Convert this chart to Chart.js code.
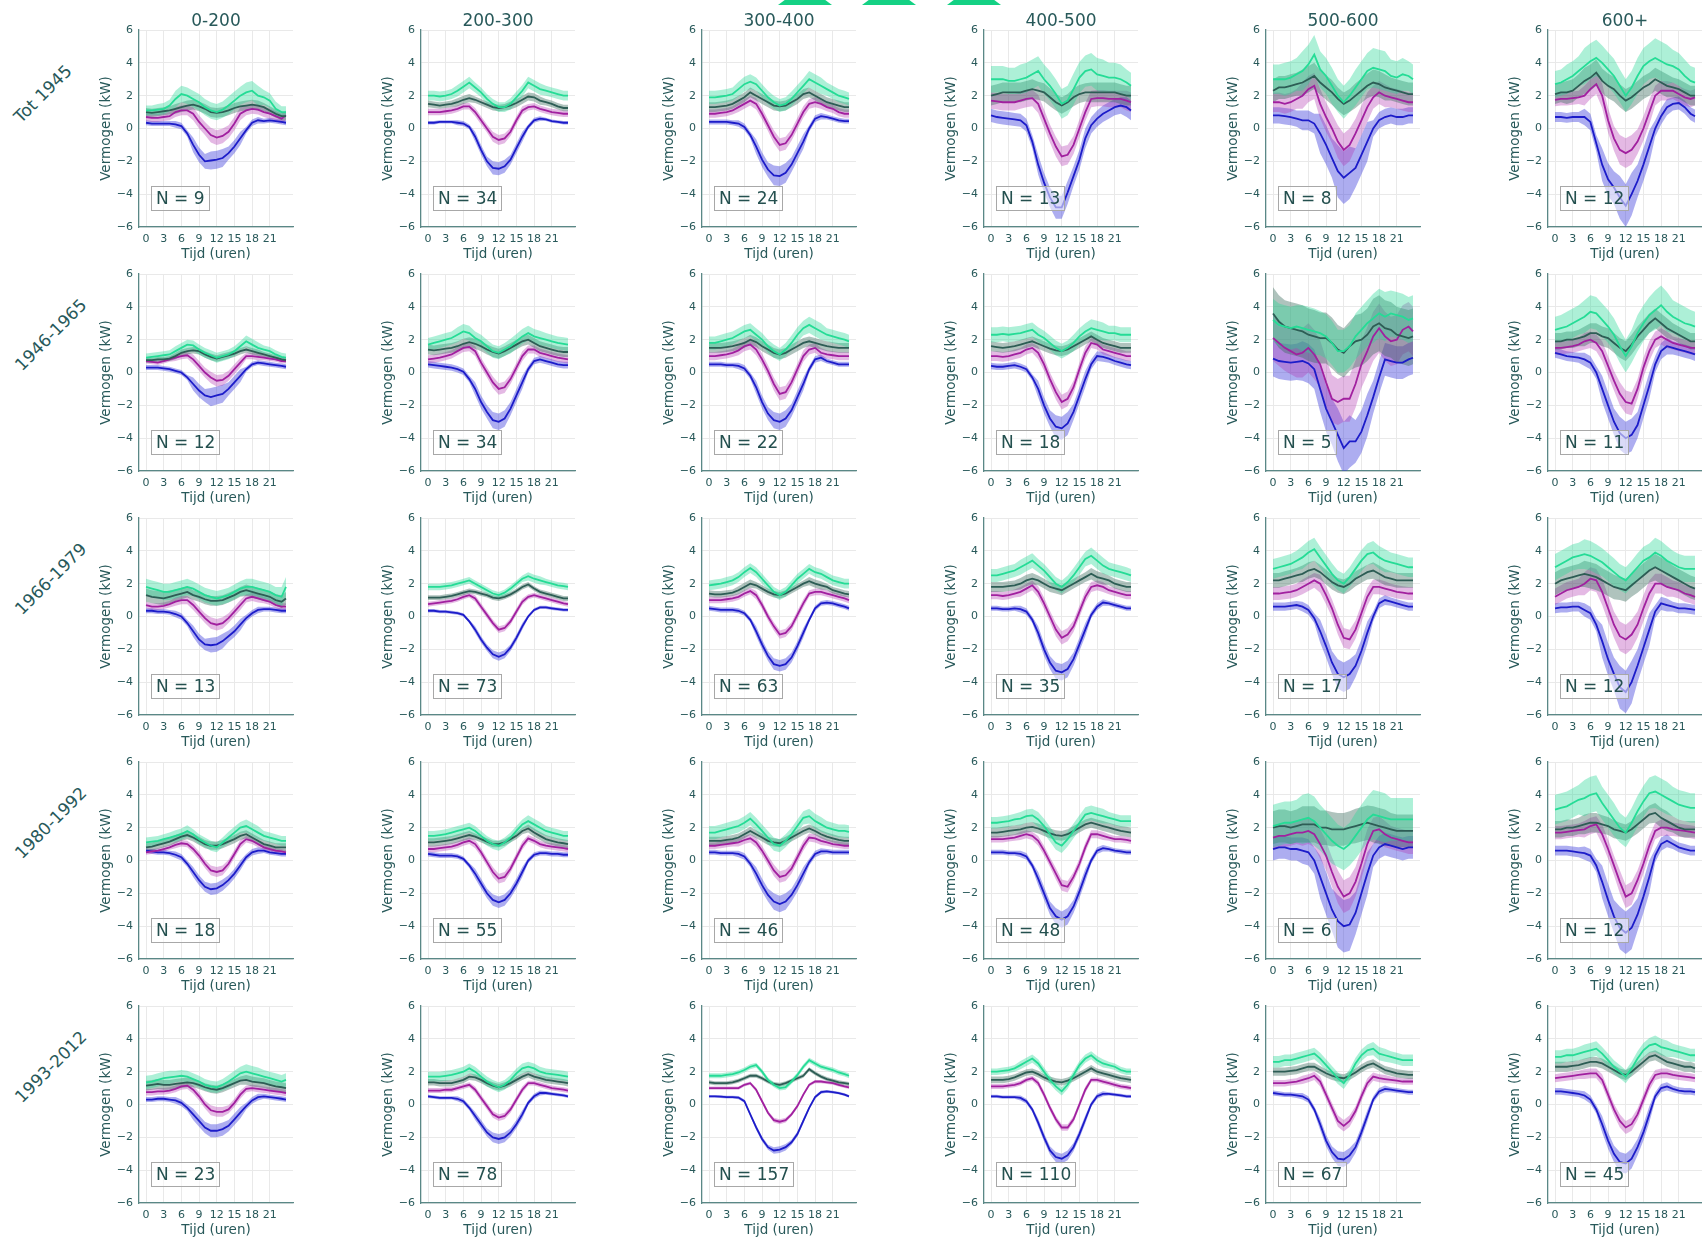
<!DOCTYPE html>
<html><head><meta charset="utf-8">
<script src="https://cdn.jsdelivr.net/npm/chart.js@4.4.1/dist/chart.umd.min.js"></script>
<style>
html,body{margin:0;padding:0;background:#fff;}
#root{position:relative;width:1702px;height:1240px;overflow:hidden;background:#fff;font-family:'DejaVu Sans',sans-serif;}
.panel{position:absolute;}
.coltitle{position:absolute;transform:translate(-50%,-50%);color:#28595a;font-size:17px;line-height:1;white-space:nowrap;}
.rowlab{position:absolute;transform:translate(-50%,-50%) rotate(-45deg);color:#28595a;font-size:17px;line-height:1;white-space:nowrap;}
.nbox{position:absolute;border:1px solid #a8a8a8;background:rgba(255,255,255,0.55);color:#24504f;font-size:17px;height:23px;line-height:23px;padding:0 4px;white-space:nowrap;}
.tri{position:absolute;top:-15px;width:0;height:0;border-left:27px solid transparent;border-right:27px solid transparent;border-bottom:20px solid #14d184;}
</style></head>
<body><div id="root"></div>
<script>
// ---------------- DATA ----------------
const hours = [0,1,2,3,4,5,6,7,8,9,10,11,12,13,14,15,16,17,18,19,20,21,22,23,23.75];
const xTickValues = [0,3,6,9,12,15,18,21];
const yTickValues = [-6,-4,-2,0,2,4,6];
const bandKnotHours = [0,3,6,9,12,15,18,21,24];
const rowLabels = ['Tot 1945','1946-1965','1966-1979','1980-1992','1993-2012'];
const colLabels = ['0-200','200-300','300-400','400-500','500-600','600+'];
const nCounts = [[9,34,24,13,8,12],[12,34,22,18,5,11],[13,73,63,35,17,12],[18,55,46,48,6,12],[23,78,157,110,67,45]];

// Row 1: Tot 1945
const blueR1 = [
 [0.35,0.3,0.3,0.3,0.3,0.25,0.15,-0.3,-1.0,-1.6,-2.0,-1.95,-1.9,-1.8,-1.5,-1.1,-0.6,-0.1,0.35,0.5,0.45,0.5,0.45,0.4,0.35],
 [0.35,0.35,0.4,0.4,0.4,0.35,0.3,0.1,-0.5,-1.3,-2.0,-2.4,-2.45,-2.3,-1.9,-1.2,-0.5,0.1,0.5,0.6,0.55,0.45,0.4,0.35,0.35],
 [0.4,0.4,0.4,0.4,0.35,0.3,0.1,-0.4,-1.1,-1.9,-2.5,-2.85,-2.9,-2.7,-2.2,-1.5,-0.8,0.0,0.6,0.75,0.7,0.6,0.5,0.45,0.45],
 [0.8,0.7,0.65,0.6,0.55,0.5,0.2,-0.8,-2.2,-3.3,-4.2,-4.8,-4.8,-3.9,-2.9,-1.9,-0.6,0.2,0.6,0.9,1.1,1.3,1.4,1.3,1.1],
 [0.8,0.8,0.75,0.7,0.6,0.5,0.5,0.3,-0.3,-1.0,-1.8,-2.6,-3.0,-2.7,-2.4,-1.6,-0.8,0.0,0.5,0.7,0.8,0.7,0.7,0.8,0.8],
 [0.7,0.7,0.65,0.7,0.7,0.7,0.4,-0.9,-2.2,-3.1,-3.6,-4.2,-4.7,-4.0,-3.2,-2.2,-1.1,0.0,0.75,1.3,1.5,1.55,1.3,0.9,0.75]];
const magR1 = [
 [0.7,0.65,0.65,0.7,0.75,1.0,1.1,1.1,0.9,0.4,0.0,-0.4,-0.55,-0.45,-0.2,0.3,0.9,1.1,1.2,1.15,1.0,0.9,0.75,0.6,0.8],
 [1.0,1.0,1.0,1.05,1.1,1.2,1.35,1.35,1.0,0.5,0.0,-0.5,-0.7,-0.6,-0.2,0.5,1.1,1.3,1.35,1.2,1.1,1.0,0.95,0.9,0.9],
 [0.9,0.9,0.95,1.0,1.1,1.3,1.5,1.7,1.5,0.9,0.2,-0.5,-1.0,-0.9,-0.4,0.3,1.0,1.5,1.6,1.5,1.3,1.2,1.0,0.9,0.9],
 [1.7,1.65,1.6,1.6,1.6,1.7,1.8,1.85,1.5,0.6,-0.3,-1.1,-1.7,-1.6,-1.0,0.0,1.0,1.8,1.85,1.85,1.8,1.8,1.8,1.7,1.6],
 [1.6,1.6,1.5,1.6,1.8,2.0,2.4,2.6,1.5,0.7,0.0,-0.8,-1.3,-1.0,-0.3,0.5,1.3,1.9,2.2,2.0,1.9,1.8,1.7,1.6,1.6],
 [1.75,1.8,1.8,1.85,1.9,2.0,2.4,2.7,2.0,0.5,-0.6,-1.3,-1.5,-1.3,-0.8,0.0,1.0,2.0,2.3,2.3,2.3,2.1,1.9,1.8,1.9]];
const grayR1 = [
 [1.0,0.95,1.0,1.05,1.1,1.2,1.3,1.4,1.45,1.35,1.2,1.0,0.95,1.0,1.1,1.25,1.35,1.4,1.45,1.4,1.3,1.1,0.9,0.75,0.75],
 [1.5,1.45,1.4,1.45,1.5,1.6,1.75,1.85,1.75,1.6,1.45,1.3,1.25,1.3,1.4,1.55,1.75,1.95,1.9,1.7,1.6,1.5,1.35,1.25,1.25],
 [1.3,1.3,1.35,1.4,1.5,1.7,1.9,2.2,2.0,1.8,1.6,1.4,1.35,1.4,1.6,1.8,2.1,2.2,2.0,1.8,1.6,1.5,1.4,1.3,1.3],
 [2.0,2.1,2.2,2.2,2.2,2.2,2.3,2.4,2.3,2.2,1.9,1.6,1.4,1.6,1.9,2.1,2.2,2.2,2.2,2.2,2.2,2.2,2.1,2.0,2.0],
 [2.3,2.5,2.5,2.6,2.7,2.8,3.0,3.2,2.8,2.5,2.2,1.8,1.5,1.7,2.0,2.3,2.6,2.8,2.7,2.5,2.4,2.3,2.2,2.1,2.1],
 [2.1,2.2,2.2,2.3,2.6,2.9,3.1,3.4,2.9,2.6,2.4,2.0,1.7,1.9,2.2,2.5,2.7,3.0,2.8,2.6,2.5,2.4,2.2,2.0,2.0]];
const greenR1 = [
 [1.1,1.1,1.15,1.2,1.4,1.8,2.1,2.0,1.8,1.6,1.3,1.1,1.0,1.15,1.4,1.7,2.0,2.2,2.3,2.0,1.9,1.7,1.2,1.0,1.0],
 [2.0,2.0,1.95,2.0,2.1,2.3,2.55,2.8,2.5,2.2,1.8,1.5,1.3,1.3,1.5,1.9,2.3,2.8,2.6,2.4,2.3,2.2,2.1,2.0,2.0],
 [1.9,1.9,1.95,2.0,2.1,2.4,2.7,2.85,2.7,2.3,1.9,1.6,1.4,1.5,1.8,2.2,2.6,3.0,2.8,2.6,2.4,2.2,2.0,1.9,1.8],
 [3.0,3.0,3.0,2.9,2.9,3.0,3.1,3.3,3.5,3.0,2.6,2.1,1.5,1.7,2.4,3.1,3.5,3.6,3.3,3.2,3.1,3.1,3.0,2.8,2.6],
 [3.0,3.0,3.0,3.1,3.3,3.5,3.9,4.5,3.6,3.2,2.6,2.0,1.6,2.0,2.5,3.0,3.5,3.7,3.6,3.5,3.2,3.1,3.3,3.2,3.0],
 [2.7,2.8,3.0,3.2,3.5,3.8,4.1,4.3,4.0,3.6,3.2,2.6,2.0,2.5,3.2,3.8,4.1,4.3,4.1,3.9,3.8,3.6,3.2,2.9,2.8]];
const bandR1 = [
 [[0.15,0.15,0.2,0.45,0.55,0.4,0.2,0.15,0.15],[0.25,0.25,0.3,0.4,0.45,0.4,0.3,0.3,0.3],[0.25,0.25,0.3,0.3,0.3,0.3,0.3,0.25,0.25],[0.3,0.35,0.5,0.5,0.5,0.55,0.6,0.45,0.35]],
 [[0.1,0.1,0.15,0.3,0.4,0.3,0.15,0.1,0.1],[0.2,0.2,0.2,0.25,0.3,0.25,0.2,0.2,0.2],[0.2,0.2,0.25,0.2,0.2,0.25,0.25,0.2,0.2],[0.3,0.3,0.35,0.3,0.3,0.35,0.35,0.3,0.3]],
 [[0.15,0.15,0.2,0.45,0.6,0.45,0.2,0.15,0.15],[0.25,0.25,0.3,0.35,0.4,0.35,0.3,0.25,0.25],[0.3,0.3,0.3,0.3,0.3,0.3,0.3,0.3,0.3],[0.4,0.4,0.45,0.4,0.4,0.45,0.5,0.4,0.4]],
 [[0.4,0.4,0.4,0.6,0.7,0.6,0.5,0.5,0.6],[0.5,0.5,0.5,0.55,0.6,0.55,0.5,0.5,0.6],[0.6,0.6,0.6,0.55,0.5,0.55,0.6,0.6,0.6],[0.8,0.8,0.9,0.9,0.9,0.95,1.0,0.9,0.8]],
 [[0.5,0.5,0.6,1.2,1.6,1.2,0.5,0.5,0.5],[0.6,0.6,0.8,0.9,1.0,0.9,0.7,0.6,0.6],[0.7,0.7,0.8,0.75,0.7,0.75,0.8,0.7,0.7],[0.9,1.0,1.2,1.1,1.0,1.1,1.2,1.0,0.9]],
 [[0.3,0.3,0.5,1.0,1.3,1.0,0.5,0.4,0.4],[0.4,0.4,0.6,0.75,0.9,0.75,0.6,0.5,0.5],[0.6,0.7,0.8,0.75,0.7,0.7,0.7,0.6,0.6],[0.8,0.9,1.1,1.05,1.0,1.1,1.2,1.0,0.9]]];

// Row 2: 1946-1965
const blueR2 = [
 [0.3,0.3,0.3,0.25,0.2,0.1,0.0,-0.3,-0.7,-1.1,-1.4,-1.5,-1.4,-1.3,-1.0,-0.6,-0.2,0.2,0.5,0.6,0.55,0.5,0.45,0.4,0.35],
 [0.5,0.45,0.4,0.35,0.3,0.2,0.05,-0.4,-1.0,-1.8,-2.4,-2.9,-3.0,-2.8,-2.2,-1.4,-0.6,0.2,0.7,0.8,0.7,0.6,0.5,0.45,0.45],
 [0.5,0.5,0.5,0.45,0.45,0.4,0.25,-0.2,-0.9,-1.8,-2.5,-2.9,-3.0,-2.8,-2.3,-1.5,-0.7,0.2,0.8,0.9,0.7,0.6,0.5,0.5,0.5],
 [0.4,0.35,0.35,0.4,0.45,0.35,0.2,-0.3,-1.0,-2.0,-2.8,-3.3,-3.4,-3.1,-2.4,-1.4,-0.4,0.5,1.0,0.95,0.85,0.7,0.6,0.5,0.45],
 [0.85,0.7,0.65,0.6,0.65,0.7,0.55,0.2,-1.0,-2.2,-3.0,-3.8,-4.6,-4.2,-4.2,-3.6,-2.6,-1.5,-0.3,0.8,0.7,0.6,0.6,0.8,0.9],
 [1.2,1.1,1.0,0.95,0.9,0.8,0.6,0.0,-1.0,-2.0,-3.0,-3.7,-4.0,-3.8,-3.2,-2.0,-0.8,0.5,1.3,1.6,1.5,1.4,1.3,1.2,1.1]];
const magR2 = [
 [0.7,0.65,0.6,0.7,0.8,0.9,1.0,1.05,0.8,0.4,0.0,-0.3,-0.5,-0.45,-0.2,0.2,0.6,1.0,1.0,0.95,0.9,0.85,0.8,0.7,0.7],
 [0.8,0.85,0.9,1.0,1.1,1.3,1.5,1.55,1.3,0.6,0.0,-0.6,-1.0,-0.9,-0.4,0.3,1.0,1.4,1.4,1.2,1.1,1.0,0.9,0.85,0.8],
 [1.0,1.0,1.05,1.1,1.2,1.35,1.6,1.7,1.4,0.8,0.1,-0.7,-1.3,-1.2,-0.6,0.2,1.0,1.4,1.5,1.2,1.1,1.05,1.0,1.0,1.0],
 [1.0,1.0,0.95,1.0,1.1,1.2,1.4,1.5,1.2,0.5,-0.4,-1.2,-1.8,-1.6,-0.9,0.2,1.2,1.8,1.7,1.4,1.3,1.2,1.1,1.0,1.0],
 [2.1,1.8,1.5,1.3,1.1,1.2,1.5,1.1,0.5,-0.6,-1.6,-1.8,-1.6,-1.6,-0.7,0.5,1.3,2.2,2.7,2.2,1.9,2.0,2.6,2.8,2.5],
 [1.5,1.5,1.55,1.6,1.7,1.9,2.0,1.8,1.3,0.4,-0.5,-1.3,-1.8,-1.9,-1.0,0.3,1.3,2.0,2.2,2.0,1.8,1.7,1.6,1.5,1.5]];
const grayR2 = [
 [0.75,0.75,0.8,0.8,0.85,1.0,1.2,1.3,1.35,1.3,1.1,0.95,0.85,0.95,1.05,1.15,1.3,1.4,1.3,1.2,1.1,1.0,0.9,0.8,0.75],
 [1.4,1.35,1.4,1.45,1.5,1.6,1.75,1.85,1.75,1.6,1.4,1.25,1.15,1.3,1.5,1.7,1.9,2.0,1.8,1.6,1.5,1.4,1.3,1.25,1.25],
 [1.5,1.5,1.5,1.55,1.6,1.7,1.8,2.0,1.85,1.6,1.4,1.2,1.1,1.2,1.4,1.6,1.8,1.9,1.8,1.7,1.6,1.55,1.5,1.5,1.5],
 [1.6,1.55,1.5,1.55,1.6,1.7,1.8,1.9,1.75,1.6,1.45,1.35,1.3,1.4,1.6,1.8,2.0,2.2,2.0,1.8,1.7,1.6,1.5,1.5,1.5],
 [3.6,3.1,2.8,2.7,2.6,2.5,2.3,2.2,2.1,2.1,1.8,1.4,1.2,1.6,1.9,2.0,2.3,2.8,3.0,2.7,2.6,2.3,2.2,2.1,2.2],
 [1.9,1.9,2.0,2.0,2.1,2.2,2.4,2.4,2.2,2.1,1.8,1.5,1.3,1.7,2.2,2.6,3.0,3.3,3.0,2.7,2.5,2.3,2.1,1.9,1.9]];
const greenR2 = [
 [0.9,0.95,1.0,1.05,1.1,1.3,1.5,1.7,1.65,1.4,1.2,1.05,0.9,1.0,1.1,1.3,1.6,1.9,1.7,1.5,1.4,1.3,1.1,0.95,0.9],
 [1.7,1.8,1.9,2.0,2.1,2.3,2.5,2.4,2.1,1.9,1.6,1.3,1.2,1.4,1.6,1.9,2.2,2.4,2.2,2.1,2.0,1.9,1.8,1.75,1.7],
 [1.8,1.8,1.9,2.0,2.1,2.3,2.5,2.6,2.3,2.0,1.6,1.3,1.1,1.4,1.8,2.3,2.7,2.9,2.7,2.5,2.3,2.2,2.1,2.0,1.9],
 [2.3,2.3,2.35,2.3,2.35,2.4,2.5,2.6,2.3,2.1,1.8,1.5,1.3,1.5,1.8,2.2,2.5,2.7,2.6,2.5,2.4,2.4,2.3,2.3,2.3],
 [3.2,2.9,2.8,2.7,2.8,2.7,2.6,2.5,2.4,2.2,1.8,1.3,1.3,1.6,2.2,2.6,3.0,3.3,3.6,3.4,3.6,3.5,3.4,3.2,3.3],
 [2.6,2.7,2.8,3.0,3.2,3.4,3.7,3.6,3.2,2.8,2.3,1.6,1.0,1.6,2.4,3.0,3.5,3.8,4.1,3.7,3.4,3.2,3.0,2.9,2.8]];
const bandR2 = [
 [[0.15,0.15,0.15,0.4,0.55,0.4,0.15,0.15,0.15],[0.15,0.15,0.2,0.3,0.35,0.3,0.2,0.15,0.15],[0.15,0.15,0.2,0.2,0.2,0.2,0.2,0.15,0.15],[0.25,0.25,0.3,0.3,0.3,0.3,0.35,0.25,0.25]],
 [[0.2,0.2,0.2,0.4,0.5,0.4,0.2,0.2,0.2],[0.25,0.25,0.25,0.3,0.35,0.3,0.25,0.25,0.25],[0.3,0.3,0.3,0.3,0.3,0.3,0.3,0.3,0.3],[0.4,0.4,0.45,0.4,0.4,0.45,0.45,0.4,0.4]],
 [[0.15,0.15,0.2,0.4,0.5,0.4,0.2,0.15,0.15],[0.25,0.25,0.3,0.35,0.4,0.35,0.3,0.25,0.25],[0.3,0.3,0.3,0.3,0.3,0.3,0.3,0.3,0.3],[0.4,0.4,0.4,0.4,0.4,0.45,0.5,0.4,0.4]],
 [[0.2,0.2,0.2,0.5,0.7,0.5,0.3,0.25,0.25],[0.3,0.3,0.3,0.4,0.45,0.4,0.3,0.3,0.3],[0.3,0.3,0.3,0.3,0.3,0.3,0.3,0.3,0.3],[0.45,0.45,0.45,0.45,0.45,0.5,0.55,0.45,0.45]],
 [[1.1,1.1,1.2,1.4,1.6,1.3,1.0,1.0,1.0],[1.4,1.4,1.5,1.45,1.4,1.45,1.5,1.5,1.5],[1.6,1.6,1.6,1.55,1.5,1.6,1.7,1.7,1.7],[1.3,1.3,1.4,1.35,1.3,1.4,1.5,1.4,1.4]],
 [[0.3,0.3,0.4,0.8,1.0,0.8,0.5,0.4,0.4],[0.4,0.4,0.5,0.6,0.7,0.6,0.5,0.4,0.4],[0.5,0.5,0.6,0.6,0.6,0.6,0.6,0.5,0.5],[0.8,0.9,1.0,1.0,1.0,1.1,1.2,1.0,0.9]]];

// Row 3: 1966-1979
const blueR3 = [
 [0.35,0.35,0.3,0.3,0.25,0.15,0.0,-0.4,-0.9,-1.4,-1.7,-1.75,-1.7,-1.5,-1.2,-0.9,-0.5,-0.1,0.2,0.4,0.45,0.45,0.4,0.35,0.35],
 [0.35,0.35,0.3,0.3,0.25,0.2,0.1,-0.3,-0.8,-1.4,-1.9,-2.3,-2.45,-2.3,-1.9,-1.3,-0.6,0.0,0.4,0.55,0.55,0.5,0.45,0.4,0.4],
 [0.5,0.45,0.4,0.4,0.4,0.35,0.2,-0.2,-0.9,-1.7,-2.4,-2.9,-3.0,-2.9,-2.5,-1.8,-1.0,-0.2,0.5,0.8,0.85,0.8,0.7,0.6,0.5],
 [0.5,0.5,0.45,0.45,0.5,0.45,0.3,-0.2,-1.0,-2.0,-2.8,-3.3,-3.4,-3.2,-2.6,-1.7,-0.8,0.1,0.6,0.85,0.8,0.7,0.6,0.5,0.5],
 [0.6,0.6,0.6,0.65,0.7,0.6,0.4,-0.1,-0.9,-1.8,-2.8,-3.5,-3.7,-3.5,-3.0,-2.1,-1.0,0.0,0.8,1.0,0.9,0.8,0.7,0.6,0.6],
 [0.5,0.55,0.55,0.6,0.6,0.4,0.2,-0.5,-1.5,-2.6,-3.5,-4.3,-4.6,-4.0,-3.0,-1.9,-0.8,0.3,0.8,0.7,0.6,0.5,0.5,0.45,0.4]];
const magR3 = [
 [0.7,0.6,0.6,0.65,0.75,0.9,1.0,1.0,0.7,0.3,-0.1,-0.4,-0.5,-0.4,-0.1,0.3,0.7,1.1,1.2,1.1,1.0,0.9,0.7,0.6,0.6],
 [0.75,0.8,0.85,0.9,0.95,1.05,1.2,1.3,1.1,0.6,0.1,-0.4,-0.8,-0.7,-0.3,0.3,0.9,1.2,1.3,1.2,1.1,1.0,0.9,0.8,0.75],
 [1.0,1.0,1.0,1.05,1.1,1.2,1.4,1.55,1.3,0.7,0.0,-0.6,-1.1,-1.0,-0.6,0.1,0.8,1.4,1.5,1.5,1.4,1.3,1.2,1.1,1.0],
 [1.3,1.3,1.25,1.3,1.4,1.5,1.7,1.9,1.5,0.8,0.0,-0.8,-1.3,-1.1,-0.6,0.3,1.2,1.8,1.9,1.8,1.6,1.5,1.4,1.3,1.3],
 [1.4,1.4,1.45,1.5,1.6,1.8,2.0,2.2,2.0,1.3,0.5,-0.5,-1.3,-1.4,-0.8,0.2,1.2,1.8,1.8,1.7,1.6,1.5,1.45,1.4,1.4],
 [1.2,1.4,1.6,1.7,1.8,2.0,2.3,2.2,1.5,0.5,-0.5,-1.2,-1.4,-1.1,-0.5,0.5,1.4,2.0,2.0,1.8,1.7,1.6,1.4,1.3,1.2]];
const grayR3 = [
 [1.3,1.2,1.15,1.1,1.2,1.3,1.4,1.5,1.3,1.2,1.05,0.95,0.95,1.0,1.15,1.3,1.5,1.6,1.5,1.4,1.3,1.2,1.0,0.9,1.1],
 [1.15,1.15,1.15,1.2,1.25,1.35,1.45,1.55,1.5,1.4,1.3,1.15,1.1,1.2,1.35,1.55,1.8,1.95,1.7,1.5,1.4,1.3,1.2,1.1,1.1],
 [1.4,1.35,1.35,1.4,1.45,1.6,1.8,2.0,1.9,1.7,1.5,1.35,1.3,1.4,1.6,1.8,2.0,2.15,2.0,1.9,1.8,1.6,1.5,1.4,1.35],
 [1.8,1.8,1.8,1.85,1.9,2.0,2.2,2.3,2.2,2.0,1.8,1.7,1.6,1.8,2.0,2.2,2.4,2.6,2.4,2.3,2.2,2.0,1.9,1.8,1.8],
 [2.2,2.2,2.3,2.4,2.5,2.6,2.8,2.9,2.7,2.4,2.1,1.9,1.8,2.0,2.3,2.5,2.7,2.8,2.6,2.4,2.3,2.2,2.2,2.2,2.2],
 [2.0,2.2,2.3,2.4,2.5,2.6,2.5,2.4,2.2,2.0,1.8,1.7,1.6,1.9,2.2,2.5,2.8,3.0,2.8,2.6,2.4,2.2,2.0,1.8,1.7]];
const greenR3 = [
 [1.8,1.7,1.6,1.5,1.5,1.6,1.7,1.8,1.7,1.5,1.3,1.2,1.1,1.2,1.3,1.5,1.7,1.8,1.8,1.7,1.6,1.5,1.3,1.2,1.8],
 [1.8,1.8,1.8,1.85,1.9,2.0,2.1,2.2,2.0,1.8,1.6,1.4,1.3,1.45,1.7,2.0,2.3,2.45,2.3,2.2,2.1,2.0,1.9,1.85,1.8],
 [1.9,1.95,2.0,2.1,2.2,2.4,2.7,2.95,2.7,2.3,1.9,1.5,1.3,1.5,1.9,2.3,2.6,2.9,2.7,2.6,2.4,2.2,2.1,2.0,2.0],
 [2.5,2.5,2.6,2.7,2.8,3.0,3.2,3.4,3.1,2.8,2.4,2.0,1.8,2.1,2.5,3.0,3.5,3.7,3.4,3.1,2.9,2.8,2.7,2.6,2.5],
 [2.9,3.0,3.1,3.2,3.4,3.6,3.9,4.1,3.6,3.1,2.6,2.2,2.0,2.4,2.9,3.4,3.8,3.9,3.6,3.4,3.3,3.2,3.1,3.0,3.0],
 [3.0,3.2,3.4,3.6,3.7,3.8,3.7,3.5,3.3,3.0,2.7,2.4,2.2,2.6,3.0,3.4,3.6,3.9,3.7,3.4,3.2,3.0,2.9,2.9,2.9]];
const bandR3 = [
 [[0.15,0.15,0.2,0.35,0.45,0.35,0.2,0.15,0.15],[0.2,0.2,0.25,0.3,0.35,0.3,0.25,0.2,0.2],[0.4,0.4,0.35,0.3,0.3,0.3,0.35,0.35,0.4],[0.5,0.5,0.5,0.45,0.45,0.45,0.5,0.5,0.6]],
 [[0.1,0.1,0.1,0.2,0.25,0.2,0.1,0.1,0.1],[0.15,0.15,0.15,0.2,0.2,0.2,0.15,0.15,0.15],[0.15,0.15,0.15,0.15,0.15,0.15,0.15,0.15,0.15],[0.2,0.2,0.2,0.2,0.2,0.2,0.25,0.2,0.2]],
 [[0.15,0.15,0.15,0.3,0.35,0.3,0.15,0.15,0.15],[0.2,0.2,0.2,0.25,0.25,0.25,0.2,0.2,0.2],[0.2,0.2,0.25,0.2,0.2,0.2,0.25,0.2,0.2],[0.3,0.3,0.3,0.3,0.3,0.3,0.3,0.3,0.3]],
 [[0.15,0.15,0.2,0.4,0.5,0.4,0.2,0.15,0.15],[0.25,0.25,0.3,0.35,0.4,0.35,0.3,0.25,0.25],[0.3,0.3,0.35,0.3,0.3,0.3,0.35,0.3,0.3],[0.4,0.4,0.45,0.4,0.4,0.45,0.5,0.4,0.4]],
 [[0.25,0.25,0.3,0.7,0.9,0.7,0.3,0.25,0.25],[0.4,0.4,0.45,0.55,0.6,0.55,0.45,0.4,0.4],[0.45,0.45,0.5,0.45,0.45,0.45,0.5,0.45,0.45],[0.6,0.6,0.7,0.65,0.6,0.65,0.7,0.6,0.6]],
 [[0.3,0.3,0.4,1.0,1.3,1.0,0.4,0.3,0.3],[0.5,0.5,0.7,0.8,0.9,0.8,0.6,0.5,0.5],[0.7,0.7,0.8,0.75,0.7,0.75,0.8,0.7,0.7],[0.8,0.8,0.9,0.85,0.8,0.85,0.9,0.8,0.8]]];

// Row 4: 1980-1992
const blueR4 = [
 [0.6,0.55,0.5,0.5,0.45,0.35,0.2,-0.2,-0.7,-1.2,-1.6,-1.75,-1.7,-1.5,-1.2,-0.8,-0.3,0.2,0.5,0.6,0.6,0.5,0.45,0.4,0.4],
 [0.4,0.35,0.3,0.3,0.3,0.25,0.1,-0.3,-0.8,-1.4,-2.0,-2.4,-2.55,-2.4,-2.0,-1.4,-0.7,0.0,0.35,0.45,0.45,0.4,0.4,0.35,0.35],
 [0.5,0.5,0.45,0.45,0.45,0.4,0.25,-0.2,-0.8,-1.5,-2.1,-2.5,-2.65,-2.5,-2.1,-1.5,-0.8,-0.1,0.4,0.55,0.55,0.5,0.5,0.5,0.5],
 [0.5,0.5,0.5,0.45,0.45,0.4,0.25,-0.3,-1.1,-2.0,-2.9,-3.4,-3.6,-3.4,-2.8,-1.9,-0.9,0.0,0.6,0.75,0.7,0.6,0.55,0.5,0.5],
 [0.7,0.8,0.8,0.7,0.7,0.6,0.5,0.0,-1.0,-2.0,-3.0,-3.7,-4.0,-3.9,-3.2,-2.0,-0.8,0.3,0.8,1.0,0.9,0.8,0.7,0.8,0.8],
 [0.6,0.6,0.6,0.55,0.5,0.45,0.3,-0.3,-1.3,-2.4,-3.4,-4.1,-4.4,-4.1,-3.3,-2.2,-1.0,0.3,1.0,1.2,1.0,0.8,0.7,0.6,0.6]];
const magR4 = [
 [0.5,0.55,0.6,0.7,0.8,0.95,1.05,1.0,0.7,0.3,-0.2,-0.6,-0.7,-0.6,-0.2,0.4,1.0,1.3,1.2,1.0,0.8,0.7,0.6,0.55,0.5],
 [0.7,0.7,0.75,0.8,0.85,0.95,1.1,1.2,1.0,0.5,-0.1,-0.7,-1.1,-1.0,-0.5,0.2,0.9,1.35,1.2,1.0,0.9,0.85,0.8,0.75,0.7],
 [0.9,0.9,0.95,1.0,1.05,1.1,1.25,1.35,1.1,0.6,0.0,-0.6,-1.0,-0.9,-0.5,0.2,0.9,1.4,1.35,1.2,1.1,1.0,0.95,0.9,0.9],
 [1.3,1.3,1.3,1.35,1.4,1.5,1.6,1.5,1.2,0.6,-0.1,-0.8,-1.5,-1.6,-1.0,-0.2,0.8,1.6,1.6,1.5,1.4,1.3,1.3,1.25,1.2],
 [1.4,1.5,1.5,1.6,1.7,1.7,1.8,1.6,1.0,0.3,-0.7,-1.6,-2.2,-2.0,-1.3,-0.2,1.0,1.8,1.9,1.6,1.4,1.3,1.2,1.1,1.1],
 [1.7,1.7,1.75,1.8,1.85,1.9,2.1,2.2,1.6,0.7,-0.3,-1.3,-2.2,-2.0,-1.2,-0.2,0.9,1.8,2.0,2.0,1.9,1.85,1.8,1.75,1.7]];
const grayR4 = [
 [0.8,0.85,0.95,1.05,1.15,1.3,1.45,1.55,1.4,1.2,1.0,0.9,0.9,1.0,1.15,1.3,1.5,1.6,1.4,1.2,1.0,0.9,0.8,0.8,0.8],
 [1.1,1.1,1.15,1.2,1.25,1.35,1.45,1.55,1.45,1.3,1.15,1.0,1.0,1.1,1.3,1.5,1.8,1.95,1.7,1.5,1.3,1.2,1.1,1.05,1.0],
 [1.2,1.2,1.2,1.25,1.3,1.4,1.6,1.8,1.6,1.4,1.2,1.1,1.05,1.2,1.4,1.6,1.8,1.95,1.8,1.6,1.45,1.35,1.25,1.2,1.2],
 [1.7,1.7,1.75,1.8,1.85,1.9,2.0,2.05,1.95,1.8,1.65,1.55,1.5,1.6,1.8,2.0,2.2,2.3,2.2,2.1,2.0,1.9,1.8,1.75,1.7],
 [2.0,2.1,2.1,2.0,2.1,2.2,2.2,2.2,2.0,2.0,1.9,1.9,1.9,2.0,2.1,2.2,2.3,2.2,2.1,2.0,1.9,1.8,1.8,1.8,1.8],
 [1.9,1.9,2.0,2.0,2.1,2.2,2.3,2.3,2.2,2.1,1.9,1.8,1.7,1.9,2.2,2.5,2.8,2.9,2.6,2.4,2.2,2.0,1.9,1.9,1.9]];
const greenR4 = [
 [1.1,1.15,1.2,1.3,1.4,1.5,1.6,1.8,1.6,1.3,1.1,0.9,0.8,1.1,1.4,1.7,2.0,2.1,1.9,1.7,1.5,1.4,1.3,1.2,1.2],
 [1.5,1.5,1.55,1.6,1.7,1.8,1.9,2.0,1.8,1.5,1.2,1.0,0.9,1.1,1.4,1.8,2.2,2.4,2.2,2.0,1.8,1.7,1.6,1.5,1.5],
 [1.7,1.7,1.8,1.9,2.0,2.1,2.3,2.55,2.2,1.8,1.4,1.0,0.9,1.2,1.6,2.1,2.6,2.7,2.4,2.2,2.0,1.9,1.8,1.8,1.75],
 [2.3,2.3,2.35,2.4,2.5,2.55,2.7,2.75,2.5,2.1,1.6,1.1,0.9,1.3,1.8,2.3,2.8,2.9,2.8,2.7,2.6,2.5,2.4,2.4,2.4],
 [2.1,2.2,2.3,2.3,2.4,2.5,2.6,2.4,2.0,1.6,1.2,0.9,0.7,1.0,1.5,2.0,2.5,2.8,2.7,2.6,2.5,2.5,2.5,2.5,2.5],
 [3.1,3.2,3.3,3.5,3.7,3.8,4.0,4.1,3.5,3.0,2.5,2.0,1.7,2.3,3.0,3.6,4.1,4.2,4.0,3.8,3.6,3.4,3.3,3.2,3.2]];
const bandR4 = [
 [[0.15,0.15,0.2,0.3,0.35,0.3,0.2,0.15,0.15],[0.15,0.15,0.2,0.25,0.3,0.25,0.2,0.15,0.15],[0.25,0.25,0.25,0.25,0.25,0.25,0.25,0.25,0.25],[0.3,0.3,0.35,0.3,0.3,0.35,0.4,0.3,0.3]],
 [[0.15,0.15,0.15,0.3,0.35,0.3,0.15,0.15,0.15],[0.2,0.2,0.2,0.25,0.3,0.25,0.2,0.2,0.2],[0.25,0.25,0.25,0.2,0.2,0.2,0.25,0.25,0.25],[0.3,0.3,0.3,0.3,0.3,0.3,0.35,0.3,0.3]],
 [[0.15,0.15,0.2,0.4,0.5,0.4,0.2,0.15,0.15],[0.2,0.2,0.25,0.3,0.35,0.3,0.25,0.2,0.2],[0.25,0.25,0.25,0.25,0.25,0.25,0.25,0.25,0.25],[0.4,0.4,0.4,0.4,0.4,0.4,0.45,0.4,0.4]],
 [[0.15,0.15,0.2,0.4,0.5,0.4,0.2,0.15,0.15],[0.2,0.2,0.25,0.3,0.35,0.3,0.25,0.2,0.2],[0.3,0.3,0.3,0.3,0.3,0.3,0.3,0.3,0.3],[0.35,0.35,0.4,0.45,0.45,0.45,0.45,0.35,0.35]],
 [[0.7,0.7,0.8,1.3,1.6,1.3,0.7,0.7,0.7],[0.7,0.7,0.8,0.9,1.0,0.9,0.8,0.7,0.7],[1.0,1.0,1.1,1.05,1.0,1.05,1.1,1.0,1.0],[1.3,1.3,1.5,1.4,1.3,1.4,1.5,1.3,1.3]],
 [[0.3,0.3,0.4,1.0,1.3,1.0,0.4,0.3,0.3],[0.4,0.4,0.5,0.6,0.7,0.6,0.5,0.4,0.4],[0.5,0.5,0.6,0.55,0.5,0.55,0.6,0.5,0.5],[0.9,0.9,1.1,1.0,0.9,0.95,1.0,0.9,0.9]]];

// Row 5: 1993-2012
const blueR5 = [
 [0.3,0.3,0.35,0.35,0.3,0.25,0.1,-0.2,-0.6,-1.0,-1.4,-1.6,-1.6,-1.5,-1.3,-0.9,-0.5,-0.1,0.25,0.45,0.5,0.45,0.4,0.35,0.3],
 [0.5,0.45,0.4,0.4,0.4,0.35,0.2,-0.2,-0.7,-1.2,-1.7,-2.0,-2.1,-2.0,-1.7,-1.2,-0.6,0.1,0.5,0.7,0.7,0.65,0.6,0.55,0.5],
 [0.5,0.5,0.48,0.45,0.45,0.42,0.2,-0.6,-1.4,-2.1,-2.6,-2.8,-2.75,-2.6,-2.3,-1.8,-1.0,-0.2,0.45,0.75,0.8,0.75,0.7,0.6,0.5],
 [0.5,0.5,0.45,0.45,0.45,0.4,0.2,-0.3,-1.1,-2.0,-2.8,-3.2,-3.3,-3.1,-2.6,-1.8,-0.9,0.0,0.5,0.65,0.65,0.6,0.55,0.5,0.5],
 [0.7,0.65,0.6,0.6,0.55,0.5,0.3,-0.3,-1.2,-2.2,-2.9,-3.3,-3.35,-3.1,-2.6,-1.7,-0.7,0.3,0.8,0.95,0.9,0.85,0.8,0.75,0.75],
 [0.8,0.8,0.75,0.7,0.65,0.55,0.3,-0.3,-1.2,-2.2,-3.0,-3.5,-3.6,-3.3,-2.6,-1.7,-0.6,0.5,1.0,1.1,0.95,0.85,0.8,0.8,0.75]];
const magR5 = [
 [0.75,0.75,0.8,0.8,0.85,0.95,1.1,1.15,0.9,0.5,0.0,-0.35,-0.45,-0.45,-0.3,0.1,0.6,0.95,1.0,0.95,0.9,0.85,0.8,0.75,0.7],
 [0.85,0.85,0.85,0.9,0.9,1.0,1.1,1.2,0.9,0.4,-0.1,-0.6,-0.8,-0.7,-0.3,0.3,0.9,1.3,1.3,1.2,1.1,1.0,0.95,0.9,0.85],
 [1.0,1.0,1.0,1.0,1.0,1.0,1.2,1.3,0.9,0.2,-0.5,-0.95,-1.05,-0.95,-0.6,-0.1,0.6,1.2,1.4,1.4,1.35,1.3,1.2,1.1,1.05],
 [1.1,1.1,1.1,1.15,1.2,1.3,1.5,1.6,1.3,0.6,-0.2,-0.9,-1.4,-1.4,-0.9,0.0,0.9,1.5,1.5,1.4,1.3,1.2,1.1,1.05,1.0],
 [1.3,1.3,1.3,1.35,1.4,1.5,1.6,1.75,1.4,0.6,-0.2,-1.0,-1.3,-1.0,-0.4,0.5,1.3,1.7,1.6,1.55,1.5,1.45,1.4,1.4,1.4],
 [1.6,1.65,1.7,1.75,1.8,1.85,1.9,1.9,1.5,0.6,-0.3,-1.0,-1.4,-1.2,-0.6,0.3,1.2,1.8,1.9,1.9,1.8,1.75,1.7,1.65,1.6]];
const grayR5 = [
 [1.15,1.2,1.25,1.2,1.2,1.25,1.3,1.35,1.3,1.2,1.05,0.95,0.9,1.0,1.15,1.3,1.45,1.5,1.4,1.35,1.3,1.2,1.1,1.05,1.0],
 [1.35,1.35,1.3,1.3,1.3,1.4,1.5,1.7,1.65,1.5,1.3,1.15,1.05,1.15,1.3,1.5,1.7,1.85,1.7,1.6,1.5,1.45,1.4,1.35,1.3],
 [1.35,1.3,1.3,1.3,1.35,1.45,1.6,1.75,1.75,1.6,1.4,1.25,1.2,1.3,1.45,1.6,1.75,2.15,1.9,1.7,1.55,1.45,1.35,1.3,1.25],
 [1.5,1.5,1.5,1.55,1.65,1.8,1.95,2.0,1.85,1.65,1.5,1.4,1.35,1.45,1.6,1.8,2.0,2.2,2.0,1.9,1.8,1.7,1.6,1.55,1.5],
 [2.0,2.0,2.0,2.05,2.1,2.2,2.3,2.3,2.1,1.9,1.75,1.65,1.6,1.75,1.95,2.2,2.4,2.5,2.3,2.1,2.0,1.9,1.85,1.8,1.8],
 [2.3,2.3,2.3,2.35,2.4,2.5,2.6,2.6,2.5,2.3,2.1,1.9,1.8,2.0,2.3,2.6,2.9,3.0,2.8,2.6,2.5,2.4,2.3,2.3,2.2]];
const greenR5 = [
 [1.35,1.4,1.5,1.6,1.65,1.7,1.75,1.7,1.55,1.4,1.2,1.1,1.05,1.2,1.4,1.65,1.9,2.0,1.9,1.8,1.7,1.6,1.5,1.4,1.5],
 [1.7,1.7,1.7,1.75,1.8,1.9,2.0,2.2,2.0,1.7,1.4,1.2,1.05,1.2,1.5,1.9,2.2,2.3,2.2,2.0,1.9,1.85,1.8,1.75,1.7],
 [1.75,1.75,1.75,1.8,1.85,1.95,2.1,2.3,2.4,2.0,1.5,1.2,1.0,1.05,1.4,1.8,2.3,2.7,2.5,2.3,2.2,2.1,1.95,1.85,1.75],
 [2.0,2.0,2.05,2.1,2.2,2.4,2.6,2.8,2.5,2.0,1.5,1.1,0.8,1.2,1.8,2.4,2.8,3.0,2.7,2.5,2.4,2.3,2.1,2.0,2.0],
 [2.6,2.6,2.7,2.7,2.8,2.9,3.0,3.1,2.8,2.4,2.0,1.6,1.3,1.8,2.5,3.0,3.3,3.4,3.1,3.0,2.9,2.8,2.7,2.7,2.7],
 [2.9,2.9,3.0,3.0,3.1,3.2,3.3,3.4,3.1,2.7,2.3,2.0,1.7,2.2,2.8,3.3,3.6,3.7,3.5,3.4,3.3,3.2,3.1,3.0,3.0]];
const bandR5 = [
 [[0.15,0.15,0.2,0.35,0.4,0.35,0.2,0.15,0.15],[0.2,0.2,0.2,0.25,0.3,0.25,0.2,0.2,0.2],[0.3,0.3,0.3,0.25,0.25,0.25,0.3,0.3,0.3],[0.4,0.4,0.35,0.35,0.35,0.4,0.45,0.4,0.4]],
 [[0.1,0.1,0.15,0.25,0.3,0.25,0.15,0.1,0.1],[0.15,0.15,0.15,0.2,0.2,0.2,0.15,0.15,0.15],[0.2,0.2,0.2,0.2,0.2,0.2,0.2,0.2,0.2],[0.3,0.3,0.3,0.3,0.3,0.3,0.3,0.3,0.3]],
 [[0.08,0.08,0.1,0.15,0.2,0.15,0.1,0.08,0.08],[0.1,0.1,0.1,0.12,0.15,0.12,0.1,0.1,0.1],[0.12,0.12,0.12,0.12,0.12,0.12,0.12,0.12,0.12],[0.15,0.15,0.15,0.15,0.15,0.15,0.15,0.15,0.15]],
 [[0.1,0.1,0.15,0.25,0.3,0.25,0.15,0.1,0.1],[0.15,0.15,0.15,0.2,0.2,0.2,0.15,0.15,0.15],[0.2,0.2,0.2,0.2,0.2,0.2,0.2,0.2,0.2],[0.2,0.2,0.25,0.25,0.25,0.25,0.25,0.2,0.2]],
 [[0.15,0.15,0.2,0.35,0.45,0.35,0.2,0.15,0.15],[0.2,0.2,0.25,0.3,0.35,0.3,0.25,0.2,0.2],[0.25,0.25,0.25,0.25,0.25,0.25,0.25,0.25,0.25],[0.35,0.35,0.35,0.35,0.35,0.35,0.4,0.35,0.35]],
 [[0.2,0.2,0.25,0.5,0.6,0.5,0.25,0.2,0.2],[0.25,0.25,0.3,0.35,0.4,0.35,0.3,0.25,0.25],[0.3,0.3,0.3,0.3,0.3,0.3,0.3,0.3,0.3],[0.4,0.4,0.45,0.4,0.4,0.45,0.5,0.4,0.4]]];

const blueRows = [blueR1, blueR2, blueR3, blueR4, blueR5];
const magRows = [magR1, magR2, magR3, magR4, magR5];
const grayRows = [grayR1, grayR2, grayR3, grayR4, grayR5];
const greenRows = [greenR1, greenR2, greenR3, greenR4, greenR5];
const bandRows = [bandR1, bandR2, bandR3, bandR4, bandR5];

// ---------------- STYLE / LAYOUT ----------------
const FONT = "'DejaVu Sans', sans-serif";
const TXT = '#28595a';
const SERIES_STYLE = [
  {line:'#1c1cc9', band:'rgba(60,60,220,0.42)'},   // blue
  {line:'#a1209f', band:'rgba(175,50,175,0.34)'},  // magenta
  {line:'#2d5d55', band:'rgba(55,105,90,0.40)'},   // dark grey-green
  {line:'#25dc96', band:'rgba(40,215,150,0.38)'}   // green
];
const SPINE_X0 = 139, COL_STEP = 281.7, PLOT_TOP0 = 30, ROW_STEP = 244;
const PLOT_W = 154, PLOT_H = 197, AX_W = 41, TOP_H = 28, AX_H = 36, RIGHT_PAD = 1;

Chart.defaults.font.family = FONT;
const root = document.getElementById('root');

// decorative green triangles at the top edge
[805, 889, 974].forEach(cx => {
  const t = document.createElement('div');
  t.className = 'tri';
  t.style.left = (cx - 27) + 'px';
  root.appendChild(t);
});

function linePoints(vals) {
  return hours.map((h, i) => ({x: h, y: vals[i]}));
}
function bandPoints(vals, widths, sign) {
  return hours.map((h, i) => {
    const k = bandKnotHours.indexOf(Math.round(h / 3) * 3);
    return {x: h, y: vals[i] + sign * widths[k]};
  });
}

for (let r = 0; r < 5; r++) {
  const ty = PLOT_TOP0 + r * ROW_STEP;
  const rl = document.createElement('div');
  rl.className = 'rowlab';
  rl.textContent = rowLabels[r];
  rl.style.left = (r === 0 ? 43 : 51) + 'px';
  rl.style.top = (r === 0 ? ty + 64 : ty + 61) + 'px';
  root.appendChild(rl);

  for (let c = 0; c < 6; c++) {
    const sx = Math.round(SPINE_X0 + c * COL_STEP);
    const wrap = document.createElement('div');
    wrap.className = 'panel';
    wrap.style.left = (sx - AX_W) + 'px';
    wrap.style.top = (ty - TOP_H) + 'px';
    const cw = AX_W + PLOT_W + RIGHT_PAD, ch = TOP_H + PLOT_H + AX_H;
    wrap.style.width = cw + 'px';
    wrap.style.height = ch + 'px';
    const cv = document.createElement('canvas');
    cv.width = cw; cv.height = ch;
    cv.style.width = cw + 'px'; cv.style.height = ch + 'px';
    wrap.appendChild(cv);
    root.appendChild(wrap);

    if (r === 0) {
      const ct = document.createElement('div');
      ct.className = 'coltitle';
      ct.textContent = colLabels[c];
      ct.style.left = (sx + PLOT_W / 2) + 'px';
      ct.style.top = (ty - 10) + 'px';
      root.appendChild(ct);
    }

    const series = [blueRows[r][c], magRows[r][c], grayRows[r][c], greenRows[r][c]];
    const bands = bandRows[r][c];
    const datasets = [];
    series.forEach((vals, s) => {
      datasets.push({data: bandPoints(vals, bands[s], -1), borderWidth: 0, borderColor: 'rgba(0,0,0,0)', pointRadius: 0, fill: false, order: 40 - 2 * s});
      datasets.push({data: bandPoints(vals, bands[s], 1), borderWidth: 0, borderColor: 'rgba(0,0,0,0)', pointRadius: 0, fill: '-1', backgroundColor: SERIES_STYLE[s].band, order: 39 - 2 * s});
    });
    series.forEach((vals, s) => {
      datasets.push({data: linePoints(vals), borderColor: SERIES_STYLE[s].line, borderWidth: 1.8, pointRadius: 0, fill: false, tension: 0, order: 10 - s});
    });

    new Chart(cv, {
      type: 'line',
      data: {datasets},
      options: {
        responsive: false, animation: false, events: [],
        layout: {padding: {top: TOP_H, right: RIGHT_PAD, bottom: 0, left: 0}},
        plugins: {legend: {display: false}, tooltip: {enabled: false}, title: {display: false}},
        scales: {
          x: {
            type: 'linear', min: -1.19, max: 24.94,
            afterBuildTicks: sc => { sc.ticks = xTickValues.map(v => ({value: v})); },
            afterFit: sc => { sc.height = AX_H; },
            grid: {color: '#e9e9e9', lineWidth: 1, drawTicks: false},
            border: {display: true, color: '#5a8886', width: 1.3},
            ticks: {font: {size: 11, family: FONT}, color: TXT, padding: 6, maxRotation: 0, autoSkip: false},
            title: {display: true, text: 'Tijd (uren)', font: {size: 13.5, family: FONT}, color: TXT, padding: 0}
          },
          y: {
            type: 'linear', min: -6, max: 6,
            afterBuildTicks: sc => { sc.ticks = yTickValues.map(v => ({value: v})); },
            afterFit: sc => { sc.width = AX_W; },
            grid: {color: '#e9e9e9', lineWidth: 1, drawTicks: false},
            border: {display: true, color: '#5a8886', width: 1.3},
            ticks: {font: {size: 11, family: FONT}, color: TXT, padding: 6,
                    callback: v => (v < 0 ? '\u2212' + Math.abs(v) : String(v))},
            title: {display: true, text: 'Vermogen (kW)', font: {size: 13.5, family: FONT}, color: TXT, padding: 0}
          }
        }
      }
    });

    const nb = document.createElement('div');
    nb.className = 'nbox';
    nb.textContent = 'N = ' + nCounts[r][c];
    nb.style.left = (sx + 12) + 'px';
    nb.style.top = (ty + 156) + 'px';
    root.appendChild(nb);
  }
}
</script>
</body></html>
